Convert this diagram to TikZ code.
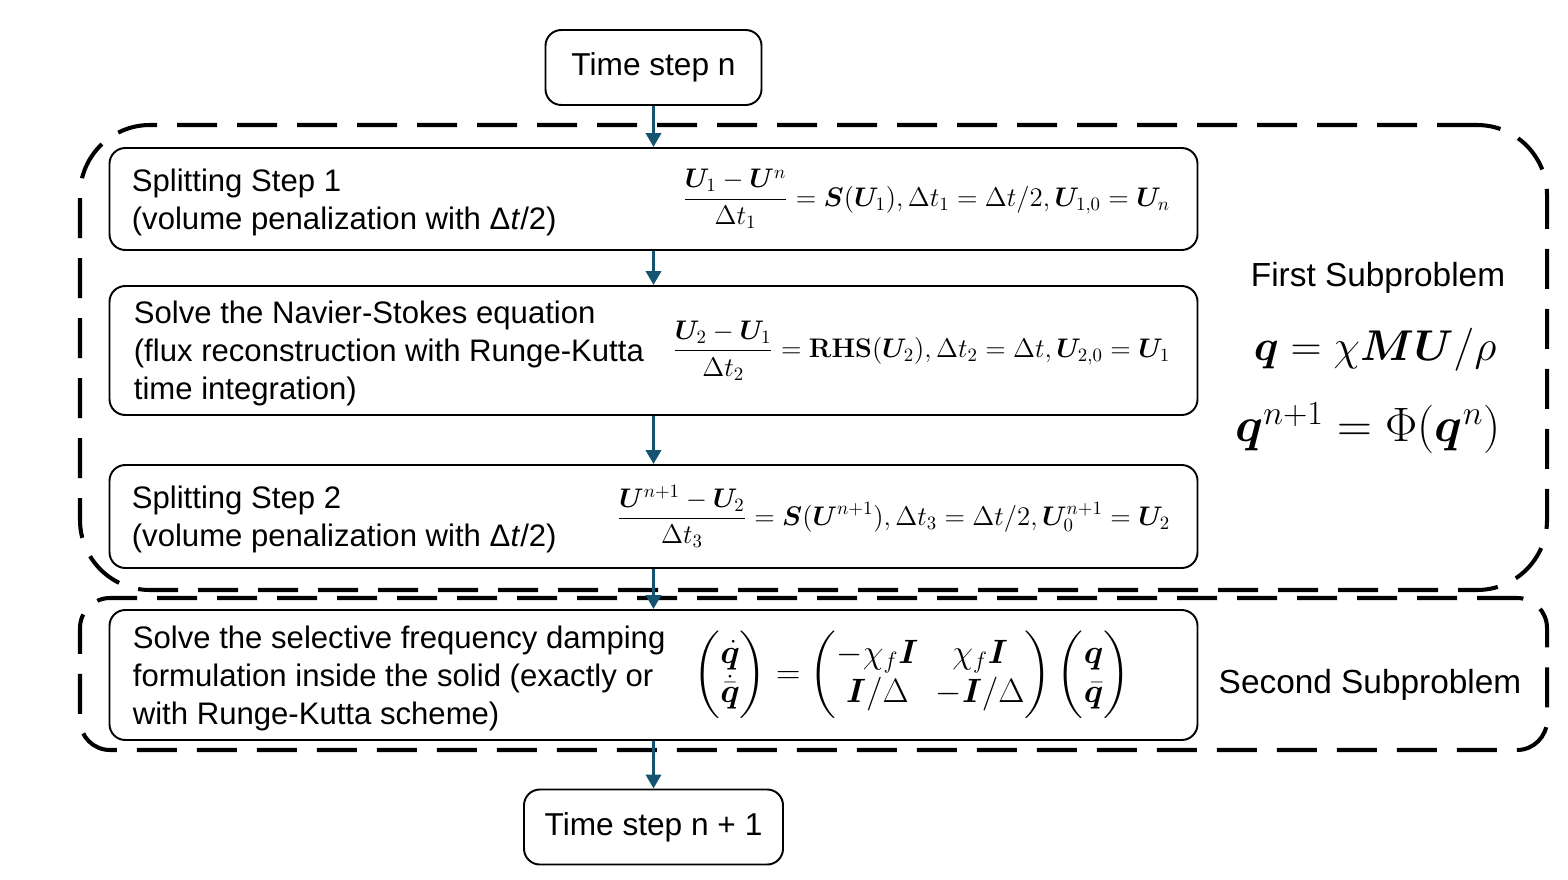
\RequirePackage{fix-cm}
\documentclass[tikz,border=0pt]{standalone}
\usepackage{amsmath}
\usepackage{bm}
\usepackage[no-math]{fontspec}
\setmainfont{Liberation Sans}
\usetikzlibrary{arrows.meta,positioning}
\definecolor{flowblue}{RGB}{20,84,112}

\begin{document}
\begin{tikzpicture}[
  stepbox/.style={draw,line width=1.1pt,rounded corners=9pt,minimum width=21.76cm},
  timebox/.style={draw,line width=1.1pt,rounded corners=9pt,minimum height=1.5cm,font=\fontsize{18}{21.6}\selectfont},
  boxtext/.style={align=left,inner sep=0pt,yshift=-0.06cm,font=\fontsize{17.7}{21.6}\selectfont},
  eqn/.style={inner sep=0pt,font=\fontsize{15.3}{18}\selectfont},
  subframe/.style={draw,line width=2.3pt,dash pattern=on 0.8cm off 0.4cm,minimum width=29.34cm},
  flow/.style={-{Triangle[width=0.3cm,length=0.28cm]},line width=2.2pt,color=flowblue}
]
\useasboundingbox (0,0) rectangle (31.36,-17.58);

% the two subproblems
\node[subframe,rounded corners=1.4cm,minimum height=9.3cm] (sub1) at (16.27,-7.15) {};
\node[subframe,rounded corners=0.6cm,minimum height=3.04cm] (sub2) at (16.27,-13.48) {};

% time steps
\node[timebox,minimum width=4.32cm] (tsn) at (13.07,-1.35) {Time step n};
\node[timebox,minimum width=5.18cm] (tsn1) at (13.07,-16.54) {Time step n + 1};

% steps
\node[stepbox,minimum height=2.04cm] (split1) at (13.07,-3.98) {};
\node[stepbox,minimum height=2.58cm] (navier) at (13.07,-7.01) {};
\node[stepbox,minimum height=2.06cm] (split2) at (13.07,-10.33) {};
\node[stepbox,minimum height=2.6cm] (sfd) at (13.07,-13.5) {};

\node[boxtext,right=0.46cm of split1.west] (split1txt) {Splitting Step 1\\(volume penalization with Δ\textit{t}/2)};
\node[boxtext,right=0.5cm of navier.west] (naviertxt) {Solve the Navier-Stokes equation\\(flux reconstruction with Runge-Kutta\\time integration)};
\node[boxtext,right=0.46cm of split2.west] (split2txt) {Splitting Step 2\\(volume penalization with Δ\textit{t}/2)};
\node[boxtext,right=0.48cm of sfd.west] (sfdtxt) {Solve the selective frequency damping\\formulation inside the solid (exactly or\\with Runge-Kutta scheme)};

\node[eqn,left=0.56cm of split1.east] (eq1) {$\displaystyle \frac{\bm{U}_1-\bm{U}^n}{\Delta t_1}=\bm{S}(\bm{U}_1),\Delta t_1=\Delta t/2,\bm{U}_{1,0}=\bm{U}_n$};
\node[eqn,left=0.56cm of navier.east] (eq2) {$\displaystyle \frac{\bm{U}_2-\bm{U}_1}{\Delta t_2}=\mathbf{RHS}(\bm{U}_2),\Delta t_2=\Delta t,\bm{U}_{2,0}=\bm{U}_1$};
\node[eqn,left=0.56cm of split2.east] (eq3) {$\displaystyle \frac{\bm{U}^{n+1}-\bm{U}_2}{\Delta t_3}=\bm{S}(\bm{U}^{n+1}),\Delta t_3=\Delta t/2,\bm{U}^{n+1}_0=\bm{U}_2$};
\node[eqn,font=\fontsize{19.2}{22}\selectfont,left=1.36cm of sfd.east] (eq4) {$\displaystyle \begin{pmatrix}\dot{\bm{q}}\\ \dot{\bar{\bm{q}}}\end{pmatrix}=\begin{pmatrix}-\chi_f\bm{I} & \chi_f\bm{I}\\ \bm{I}/\Delta & -\bm{I}/\Delta\end{pmatrix}\begin{pmatrix}\bm{q}\\ \bar{\bm{q}}\end{pmatrix}$};

% labels on the right
\node[font=\fontsize{19}{23}\selectfont] (firstlbl) at (27.56,-5.56) {First Subproblem};
\node[font=\fontsize{24.5}{29}\selectfont] (firsteq) at (27.5,-7.0) {$\bm{q}=\chi\bm{MU}/\rho$};
\node[font=\fontsize{27.5}{32}\selectfont] (phieq) at (27.36,-8.56) {$\bm{q}^{n+1}=\Phi(\bm{q}^n)$};
\node[font=\fontsize{19}{23}\selectfont] (secondlbl) at (27.4,-13.7) {Second Subproblem};

\draw[flow] (tsn) -- (split1);
\draw[flow] (split1) -- (navier);
\draw[flow] (navier) -- (split2);
\draw[flow] (split2) -- (sfd);
\draw[flow] (sfd) -- (tsn1);
\end{tikzpicture}
\end{document}
